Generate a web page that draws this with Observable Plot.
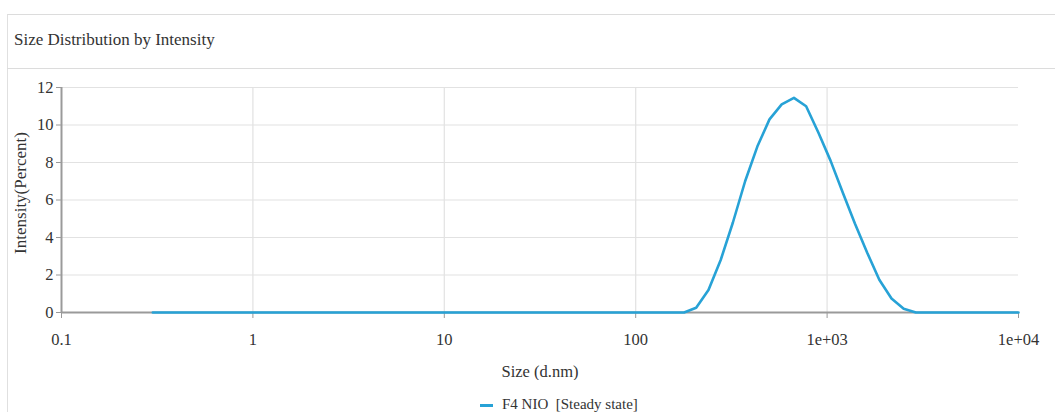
<!DOCTYPE html>
<html>
<head>
<meta charset="utf-8">
<script src="https://cdn.jsdelivr.net/npm/d3@7"></script>
<script src="https://cdn.jsdelivr.net/npm/@observablehq/plot@0.6"></script>
<style>
  html, body { margin: 0; padding: 0; background: #fff; width: 1055px; height: 412px; overflow: hidden; }
  body { position: relative; font-family: "Liberation Serif", "DejaVu Serif", serif; color: #333; }
  #panel { position: absolute; left: 7px; top: 14px; width: 1060px; height: 420px; border-left: 1px solid #e0e0e0; border-top: 1px solid #dcdcdc; }
  #title { position: absolute; left: 14px; top: 30px; font-size: 17px; line-height: 20px; color: #333; }
  #sep { position: absolute; left: 7px; top: 68px; width: 1060px; height: 0; border-top: 1px solid #dcdcdc; }
  #chart { position: absolute; left: 0; top: 70px; }
  #legend { position: absolute; left: 480px; top: 396px; font-size: 15px; line-height: 16px; color: #333; white-space: nowrap; }
  #legend .sw { display: inline-block; width: 13px; height: 2.5px; background: #27a2d6; vertical-align: middle; margin-right: 9px; }
</style>
</head>
<body>
<div id="panel"></div>
<div id="title">Size Distribution by Intensity</div>
<div id="sep"></div>
<div id="chart"></div>
<div id="legend"><span class="sw"></span>F4 NIO&nbsp; [Steady state]</div>
<script>
// Series: size (d.nm) and intensity (%)
const sizes = [0.3, 155, 179, 207, 240, 278, 322, 373, 432, 500, 579, 671, 777, 900, 1042, 1207, 1397, 1618, 1874, 2170, 2513, 2910, 10000];
const intensity = [0, 0, 0, 0.25, 1.2, 2.8, 4.8, 7.0, 8.85, 10.3, 11.1, 11.45, 11.0, 9.6, 8.1, 6.4, 4.75, 3.2, 1.75, 0.75, 0.2, 0, 0];

const xTicks = [0.1, 1, 10, 100, 1000, 10000];
const xTickLabels = ["0.1", "1", "10", "100", "1e+03", "1e+04"];
const xGrid = [1, 10, 100, 1000];
const yTicks = [0, 2, 4, 6, 8, 10, 12];
const yGrid = [2, 4, 6, 8, 10, 12];
const yLabel = "Intensity(Percent)";
const xLabel = "Size (d.nm)";

const data = sizes.map((s, i) => ({size: s, intensity: intensity[i]}));

const chart = Plot.plot({
  width: 1055,
  height: 310,
  marginLeft: 61,
  marginRight: 37,
  marginTop: 17,
  marginBottom: 68,
  style: {fontFamily: "'Liberation Serif', 'DejaVu Serif', serif", fontSize: "16.5px", color: "#333", background: "transparent"},
  x: {type: "log", domain: [0.1, 10000]},
  y: {domain: [0, 12]},
  marks: [
    Plot.gridY(yGrid, {stroke: "#e2e2e2", strokeOpacity: 1, strokeWidth: 1.2}),
    Plot.gridX(xGrid, {stroke: "#e2e2e2", strokeOpacity: 1, strokeWidth: 1.2}),
    Plot.axisY({ticks: yTicks, tickSize: 5, tickPadding: 3, stroke: "#999", label: null, fontSize: 16.5}),
    Plot.text([yLabel], {frameAnchor: "left", textAnchor: "middle", rotate: -90, dx: -41, dy: -7, fontSize: 17, fill: "#333"}),
    Plot.axisX({ticks: xTicks, tickFormat: (d) => xTickLabels[xTicks.indexOf(d)], tickSize: 6, tickPadding: 15, stroke: "#999", label: xLabel, labelAnchor: "center", labelArrow: "none", labelOffset: 64, fontSize: 16.5}),
    Plot.ruleX([0.1], {stroke: "#9a9a9a", strokeWidth: 2}),
    Plot.ruleY([0], {stroke: "#9a9a9a", strokeWidth: 2}),
    Plot.line(data, {x: "size", y: "intensity", stroke: "#27a2d6", strokeWidth: 2.6})
  ]
});
document.getElementById("chart").appendChild(chart);
</script>
</body>
</html>
